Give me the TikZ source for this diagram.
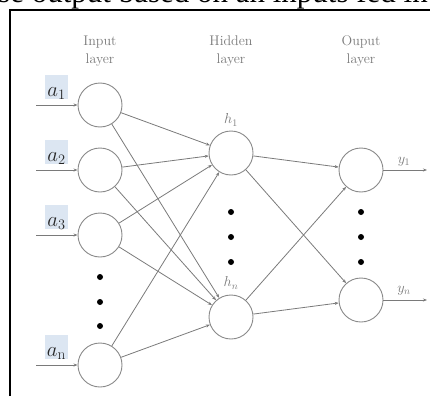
\documentclass[tikz,border=0pt]{standalone}
\usepackage{fontspec}
\newfontfamily\topserif{Liberation Serif}
\usetikzlibrary{arrows.meta}
\definecolor{linegray}{HTML}{7A7A7A}
\definecolor{circgray}{HTML}{8A8A8A}
\definecolor{textgray}{HTML}{7A7A7A}
\definecolor{labelblue}{HTML}{DCE6F2}
\tikzset{
  neuron/.style={circle, draw=circgray, line width=0.9pt, minimum size=44pt, inner sep=0pt, fill=white},
  conn/.style={draw=linegray, line width=0.8pt, -{Stealth[length=4pt,width=3pt]}},
  layertitle/.style={align=center, text=textgray, font=\fontsize{14}{18}\selectfont},
  inlabel/.style={anchor=base, fill=labelblue, inner sep=0pt, text height=21pt, text depth=3pt, minimum width=23pt, text=black!85, font=\fontsize{22}{22}\selectfont},
  nlabel/.style={text=textgray, font=\fontsize{14}{14}\selectfont, inner sep=0pt},
  dotmark/.style={fill=black}
}
\begin{document}
\begin{tikzpicture}[x=1pt,y=-1pt]
\useasboundingbox (0,0) rectangle (430,396);
\clip (0,0) rectangle (430,396);
% cut-off caption line at the top
\node[anchor=base west, inner sep=0pt, font=\fontsize{31}{31}\selectfont\topserif] (cap) at (-2,2.5) {se output based on an inputs fed in};
% frame
\draw[line width=2pt] (10,396) -- (10,10) -- (431,10);
% titles
\node[layertitle] (t1) at (100,51) {Input\\layer};
\node[layertitle] (t2) at (231,51) {Hidden\\layer};
\node[layertitle] (t3) at (361,51) {Ouput\\layer};
% input nodes
\node[neuron] (i1) at (100,105) {};
\node[neuron] (i2) at (100,170) {};
\node[neuron] (i3) at (100,235) {};
\node[neuron] (in) at (100,365) {};
% hidden
\node[neuron] (h1) at (231,153) {};
\node[neuron] (hn) at (231,317) {};
% output
\node[neuron] (o1) at (361,170) {};
\node[neuron] (on) at (361,300) {};
% dots
\foreach \y in {277,302,326} \fill[dotmark] (100,\y) circle (3pt);
\foreach \y in {212,237,262} {\fill[dotmark] (231,\y) circle (3pt); \fill[dotmark] (361,\y) circle (3pt);}
% input labels
\node[inlabel] (l1) at (56.5,96) {$a_1$};
\node[inlabel] (l2) at (56.5,161) {$a_2$};
\node[inlabel] (l3) at (56.5,226) {$a_3$};
\node[inlabel] (ln) at (56.5,356) {$a_{\mathrm{n}}$};
% input arrows
\coordinate (s1) at (36,105);
\coordinate (s2) at (36,170);
\coordinate (s3) at (36,235);
\coordinate (sn) at (36,365);
\draw[conn] (s1) -- (i1);
\draw[conn] (s2) -- (i2);
\draw[conn] (s3) -- (i3);
\draw[conn] (sn) -- (in);
% input to hidden
\foreach \a in {i1,i2,i3,in} {
  \draw[conn] (\a) -- (h1);
  \draw[conn] (\a) -- (hn);
}
% hidden to output
\draw[conn] (h1) -- (o1);
\draw[conn] (h1) -- (on);
\draw[conn] (hn) -- (o1);
\draw[conn] (hn) -- (on);
% hidden labels
\node[nlabel] (lh1) at (231,120) {$h_1$};
\node[nlabel] (lhn) at (231,283) {$h_n$};
% outputs
\coordinate (e1) at (427,170);
\coordinate (en) at (427,300);
\draw[conn] (o1) -- (e1);
\draw[conn] (on) -- (en);
\node[nlabel] (ly1) at (404,162) {$y_1$};
\node[nlabel] (lyn) at (404,291) {$y_n$};
\end{tikzpicture}
\end{document}
